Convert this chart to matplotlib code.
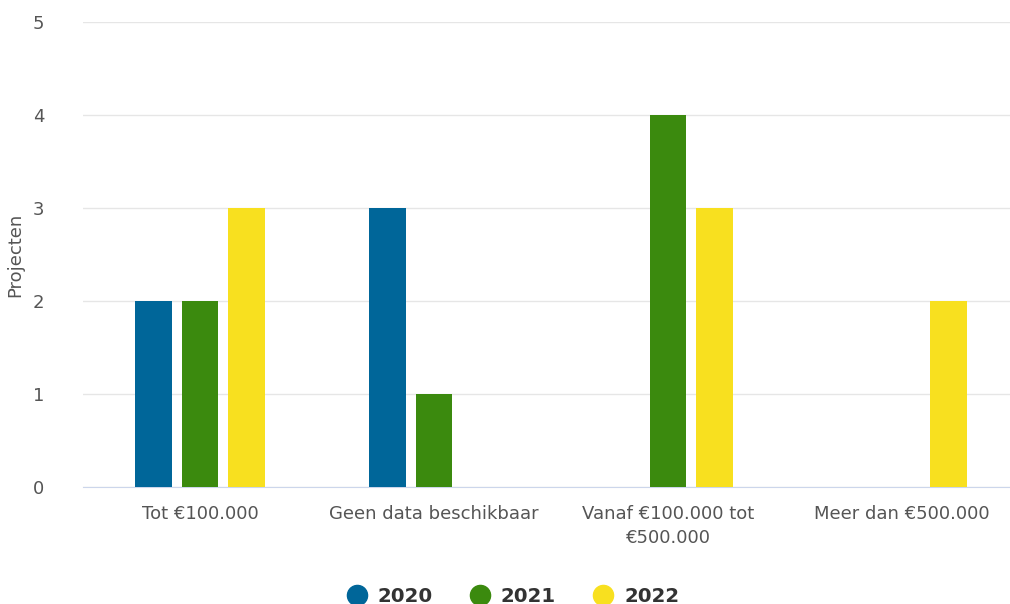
import numpy as np
import matplotlib
matplotlib.use('Agg')
import matplotlib.pyplot as plt
from matplotlib.lines import Line2D

plt.rcParams['font.family'] = ['DejaVu Sans']

categories = ['Tot €100.000', 'Geen data beschikbaar', 'Vanaf €100.000 tot\n€500.000', 'Meer dan €500.000']
years = ['2020', '2021', '2022']
values_2020 = [2, 3, 0, 0]
values_2021 = [2, 1, 4, 0]
values_2022 = [3, 0, 3, 2]
colors = ['#006699', '#3b8a0e', '#f8e01f']

fig = plt.figure(figsize=(10.1, 6.04), dpi=100)
ax = fig.add_axes([83 / 1010, 1 - 487 / 604, 936 / 1010, 465 / 604])

x = np.arange(len(categories))
width = 0.158
offset = 0.2
for i, (vals, col) in enumerate(zip([values_2020, values_2021, values_2022], colors)):
    ax.bar(x + (i - 1) * offset, vals, width, color=col, zorder=3)

ax.set_xlim(-0.5, len(categories) - 0.5)
ax.set_ylim(0, 5)
ax.set_yticks(range(6))
ax.grid(axis='y', color='#e6e6e6', linewidth=1, zorder=0)
ax.set_xticks(x)
ax.set_xticklabels(categories, fontsize=13, color='#555555', linespacing=1.45)
ax.tick_params(axis='y', labelsize=13, labelcolor='#555555', length=0, pad=28)
ax.tick_params(axis='x', length=0, pad=13)
for s in ['top', 'right', 'left']:
    ax.spines[s].set_visible(False)
ax.spines['bottom'].set_color('#ccd6eb')
ax.set_ylabel('Projecten', fontsize=13, color='#555555', labelpad=6)

handles = [Line2D([], [], marker='o', linestyle='none', markersize=14.5, color=c) for c in colors]
leg = fig.legend(handles, years, loc='lower center', bbox_to_anchor=(0.508, -0.032), ncol=3,
                 frameon=False, handlelength=1.0, handletextpad=0.55, columnspacing=1.9,
                 prop={'weight': 'bold', 'size': 14.2})
for t in leg.get_texts():
    t.set_color('#333333')

fig.savefig('out.png', dpi=100)
